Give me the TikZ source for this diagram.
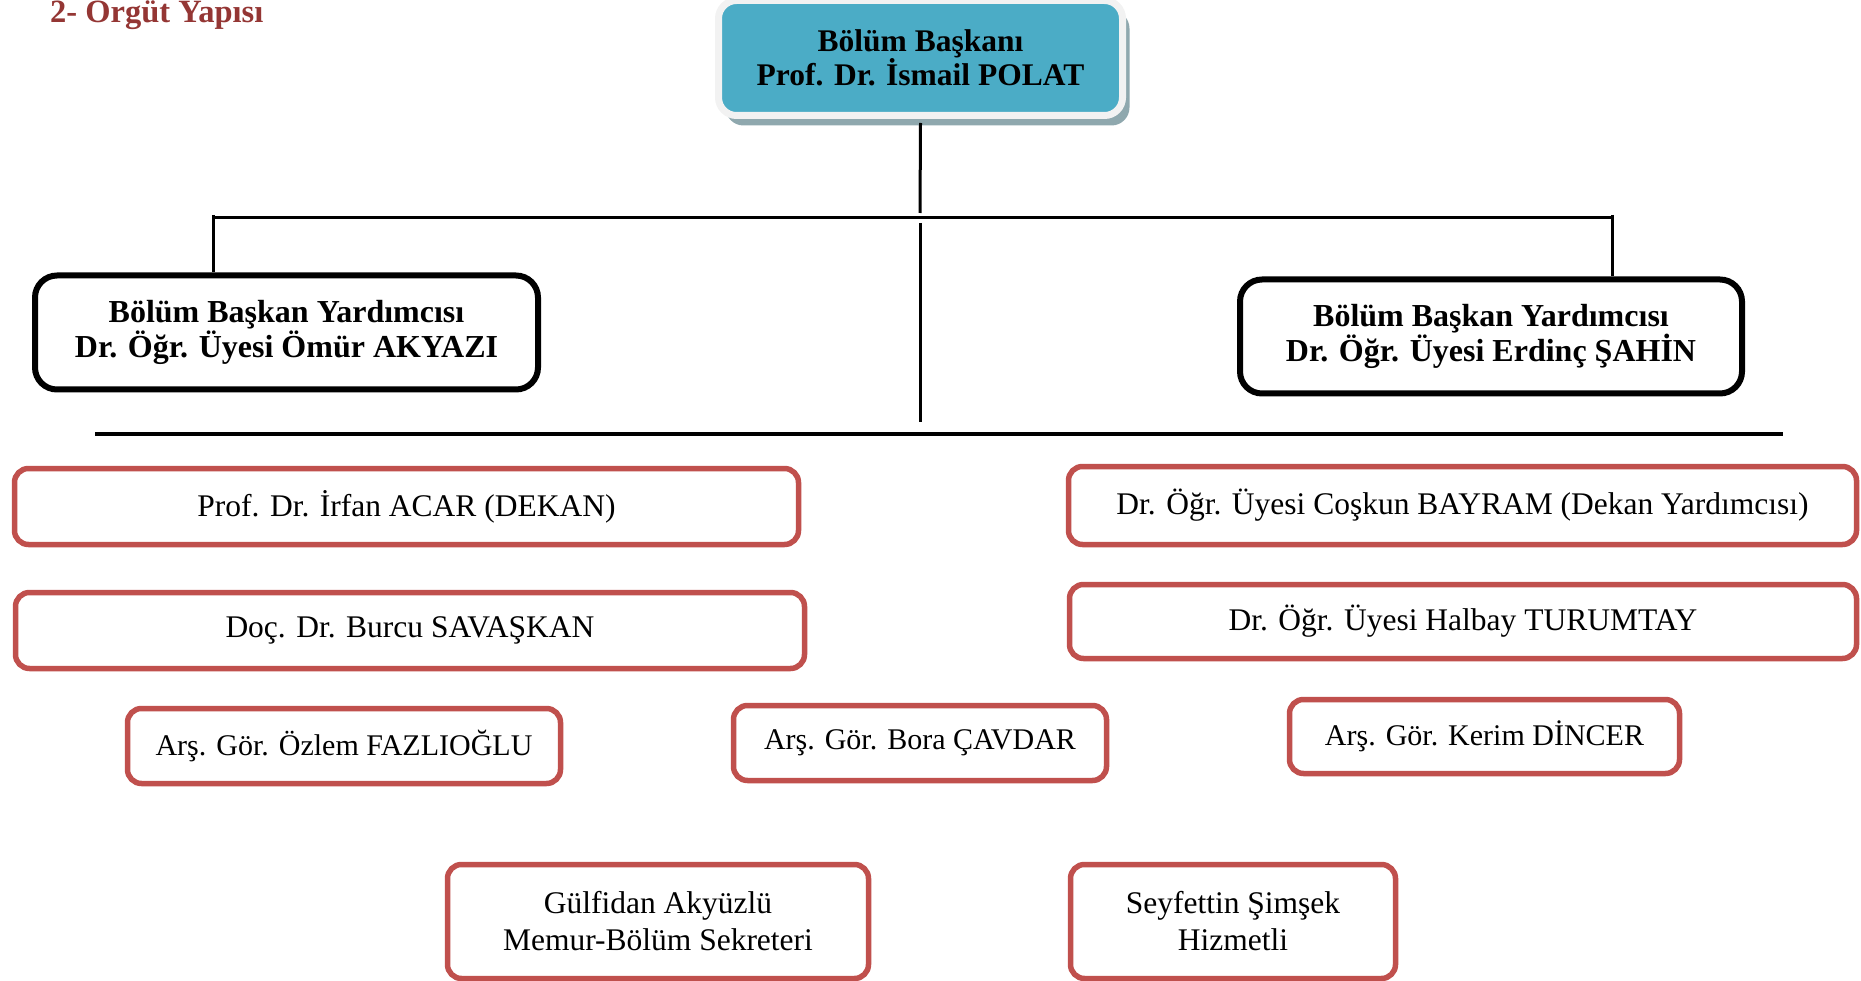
\documentclass[tikz,border=0pt]{standalone}
\usepackage{fontspec}
\setmainfont{Liberation Serif}
\usetikzlibrary{shadows}
\definecolor{redline}{HTML}{C0504D}
\definecolor{cyanfill}{HTML}{4BACC6}
\definecolor{shgray}{HTML}{8FA8AE}
\definecolor{titlered}{HTML}{943634}
\definecolor{rimwhite}{HTML}{F2F2F2}
\begin{document}
\begin{tikzpicture}[x=1pt,y=-1pt,
  headbox/.style={fill=cyanfill, draw=rimwhite, line width=7pt, rounded corners=18pt,
    drop shadow={shadow xshift=7pt, shadow yshift=-10pt, fill=shgray, opacity=1},
    inner sep=0pt, align=center, font=\bfseries\fontsize{31.5}{32}\selectfont},
  blackbox/.style={draw=black, line width=6pt, rounded corners=22pt, fill=white,
    inner sep=0pt, align=center, font=\bfseries\fontsize{32}{35}\selectfont},
  redbox/.style={draw=redline, line width=5.5pt, rounded corners=14pt, fill=white,
    inner sep=0pt, align=center, font=\fontsize{31.5}{37}\selectfont},
  arsbox/.style={redbox, font=\fontsize{30}{34}\selectfont},
  conn/.style={draw=black, line width=3pt},
  longline/.style={draw=black, line width=4pt},
  ]
\useasboundingbox (0,0) rectangle (1861,981);

\node[anchor=base west, font=\bfseries\fontsize{32.5}{34}\selectfont, text=titlered, inner sep=0pt] (title) at (50,23) {2- Orgüt Yapısı};

\node[headbox, minimum width=404pt, minimum height=115pt] (bp) at (920.5,58) {Bölüm Başkanı\\Prof. Dr. İsmail POLAT};

\node[blackbox, minimum width=503pt, minimum height=114pt] (om) at (286.5,332.5) {Bölüm Başkan Yardımcısı\\Dr. Öğr. Üyesi Ömür AKYAZI};
\node[blackbox, minimum width=502pt, minimum height=114pt] (er) at (1491,336.5) {Bölüm Başkan Yardımcısı\\Dr. Öğr. Üyesi Erdinç ŞAHİN};

\node[redbox, minimum width=784pt, minimum height=76pt] (irfan) at (406.5,506.5) {Prof. Dr. İrfan ACAR (DEKAN)};
\node[redbox, minimum width=789pt, minimum height=76pt] (burcu) at (410,630.5) {Doç. Dr. Burcu SAVAŞKAN};
\node[redbox, minimum width=788pt, minimum height=78pt] (coskun) at (1462.5,505.5) {Dr. Öğr. Üyesi Coşkun BAYRAM (Dekan Yardımcısı)};
\node[redbox, minimum width=787pt, minimum height=74pt] (halbay) at (1463,621.5) {Dr. Öğr. Üyesi Halbay TURUMTAY};

\node[arsbox, minimum width=433pt, minimum height=75pt] (ozlem) at (344,746) {Arş. Gör. Özlem FAZLIOĞLU};
\node[arsbox, minimum width=373pt, minimum height=75pt] (bora) at (920,743) {Arş. Gör. Bora ÇAVDAR};
\node[arsbox, minimum width=390pt, minimum height=74pt] (kerim) at (1484.5,736.5) {Arş. Gör. Kerim DİNCER};

\node[redbox, minimum width=421pt, minimum height=114pt] (gulfidan) at (658,921.5) {Gülfidan Akyüzlü\\Memur-Bölüm Sekreteri};
\node[redbox, minimum width=325pt, minimum height=114pt] (seyfettin) at (1233,921.5) {Seyfettin Şimşek\\Hizmetli};

\coordinate (j1) at (920,213);
\coordinate (hL) at (213,218);
\coordinate (hR) at (1612,218);
\coordinate (j2) at (920,223);
\coordinate (j3) at (920,422);
\coordinate (bL) at (95,434);
\coordinate (bR) at (1783,434);

\draw[conn] ([yshift=-4pt]bp.south) -- (j1);
\draw[conn] (hL) -- (hR);
\draw[conn] ([yshift=3pt]hL) -- (hL |- om.north);
\draw[conn] ([yshift=3pt]hR) -- (hR |- er.north);
\draw[conn] (j2) -- (j3);
\draw[longline] (bL) -- (bR);
\end{tikzpicture}
\end{document}
